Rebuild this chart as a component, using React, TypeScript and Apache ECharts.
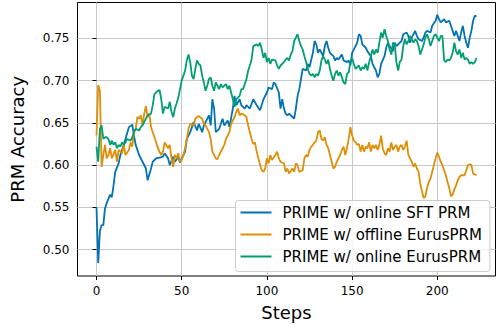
import React, { useEffect, useRef } from "react";
import * as echarts from "echarts";

const seriesNames = [
  "PRIME w/ online SFT PRM",
  "PRIME w/ offline EurusPRM",
  "PRIME w/ online EurusPRM",
];

const xTicks = [0, 50, 100, 150, 200];
const yTicks = [0.5, 0.55, 0.6, 0.65, 0.7, 0.75];

// [step, accuracy]
const onlineSft: [number, number][] = [
  [0, 0.55], [1, 0.484], [2, 0.522], [3, 0.529], [4, 0.529], [5, 0.549], [6, 0.555], [8, 0.565], [9, 0.562],
  [10, 0.576], [11, 0.592], [13, 0.602], [14, 0.612], [16, 0.624], [17, 0.631], [19, 0.645], [21, 0.648],
  [22, 0.635], [23, 0.624], [25, 0.612], [27, 0.604], [29, 0.596], [30, 0.582], [32, 0.596], [33, 0.604],
  [35, 0.608], [37, 0.609], [39, 0.61], [40, 0.614], [42, 0.608], [43, 0.6], [45, 0.61], [46, 0.604],
  [48, 0.61], [49, 0.603], [50, 0.608], [52, 0.616], [53, 0.631], [55, 0.639], [56, 0.645], [57, 0.651],
  [59, 0.641], [60, 0.649], [62, 0.639], [63, 0.647], [64, 0.651], [66, 0.659], [67, 0.647], [68, 0.678],
  [69, 0.667], [70, 0.639], [72, 0.643], [74, 0.655], [75, 0.647], [77, 0.653], [78, 0.645], [80, 0.667],
  [81, 0.682], [82, 0.671], [84, 0.678], [85, 0.671], [87, 0.667], [88, 0.671], [90, 0.667], [92, 0.678],
  [94, 0.671], [96, 0.665], [98, 0.678], [100, 0.686], [101, 0.692], [103, 0.69], [104, 0.698], [105, 0.696],
  [107, 0.686], [108, 0.667], [109, 0.678], [110, 0.667], [111, 0.661], [112, 0.659], [113, 0.661],
  [115, 0.657], [116, 0.655], [117, 0.667], [118, 0.682], [119, 0.69], [120, 0.702], [121, 0.714],
  [123, 0.712], [124, 0.72], [125, 0.716], [127, 0.733], [128, 0.747], [129, 0.743], [130, 0.733],
  [131, 0.737], [133, 0.729], [134, 0.741], [135, 0.747], [136, 0.739], [137, 0.733], [139, 0.729],
  [140, 0.724], [141, 0.727], [142, 0.725], [144, 0.731], [145, 0.724], [147, 0.722], [148, 0.724],
  [149, 0.718], [150, 0.733], [152, 0.741], [153, 0.745], [154, 0.755], [155, 0.753], [156, 0.743],
  [158, 0.739], [159, 0.735], [161, 0.729], [162, 0.72], [164, 0.712], [165, 0.704], [166, 0.708],
  [167, 0.72], [169, 0.729], [170, 0.739], [171, 0.745], [172, 0.741], [174, 0.735], [175, 0.745],
  [176, 0.741], [178, 0.745], [179, 0.747], [180, 0.755], [182, 0.757], [183, 0.753], [184, 0.745],
  [185, 0.751], [187, 0.759], [188, 0.753], [189, 0.749], [191, 0.747], [192, 0.751], [193, 0.757],
  [194, 0.759], [196, 0.757], [197, 0.765], [199, 0.771], [200, 0.778], [201, 0.773], [202, 0.769],
  [204, 0.773], [205, 0.769], [207, 0.771], [208, 0.765], [209, 0.759], [210, 0.753], [211, 0.759],
  [213, 0.747], [214, 0.757], [215, 0.765], [216, 0.753], [217, 0.745], [218, 0.739], [219, 0.751],
  [220, 0.759], [221, 0.771], [222, 0.777], [223, 0.776],
];

const offlineEurus: [number, number][] = [
  [0, 0.635], [1, 0.695], [2, 0.688], [3, 0.598], [4, 0.612], [5, 0.624], [6, 0.608], [7, 0.612], [8, 0.62],
  [9, 0.608], [11, 0.618], [12, 0.604], [13, 0.618], [15, 0.614], [16, 0.624], [17, 0.612], [19, 0.618],
  [20, 0.627], [21, 0.622], [22, 0.639], [23, 0.643], [24, 0.657], [25, 0.655], [26, 0.659], [27, 0.647],
  [28, 0.661], [29, 0.67], [30, 0.657], [31, 0.661], [32, 0.645], [33, 0.639], [35, 0.627], [36, 0.62],
  [38, 0.612], [39, 0.616], [40, 0.627], [42, 0.62], [43, 0.624], [44, 0.608], [45, 0.598], [46, 0.612],
  [47, 0.608], [48, 0.614], [49, 0.604], [50, 0.606], [51, 0.612], [52, 0.62], [53, 0.631], [54, 0.643],
  [55, 0.649], [57, 0.647], [58, 0.655], [59, 0.657], [60, 0.658], [62, 0.655], [63, 0.649], [64, 0.647],
  [66, 0.639], [67, 0.631], [68, 0.616], [70, 0.608], [71, 0.607], [72, 0.612], [74, 0.62], [75, 0.624],
  [76, 0.631], [78, 0.639], [79, 0.649], [81, 0.657], [82, 0.663], [83, 0.667], [84, 0.659], [85, 0.661],
  [87, 0.659], [88, 0.657], [89, 0.647], [91, 0.631], [92, 0.625], [93, 0.627], [94, 0.616], [95, 0.608],
  [96, 0.6], [97, 0.594], [98, 0.592], [99, 0.596], [100, 0.608], [101, 0.602], [102, 0.612], [103, 0.606],
  [105, 0.612], [106, 0.616], [107, 0.608], [108, 0.604], [110, 0.602], [111, 0.592], [112, 0.596],
  [113, 0.59], [115, 0.596], [116, 0.592], [117, 0.602], [118, 0.6], [119, 0.592], [121, 0.594],
  [122, 0.608], [123, 0.612], [124, 0.61], [125, 0.618], [126, 0.622], [127, 0.624], [128, 0.627],
  [129, 0.629], [130, 0.639], [131, 0.641], [132, 0.631], [133, 0.629], [134, 0.633], [135, 0.624],
  [136, 0.62], [137, 0.612], [138, 0.604], [139, 0.596], [140, 0.598], [141, 0.604], [142, 0.608],
  [143, 0.612], [144, 0.618], [145, 0.622], [146, 0.612], [147, 0.62], [148, 0.631], [149, 0.645],
  [150, 0.635], [151, 0.629], [152, 0.627], [153, 0.624], [154, 0.625], [155, 0.616], [156, 0.624],
  [157, 0.616], [158, 0.622], [159, 0.62], [160, 0.627], [161, 0.616], [162, 0.624], [163, 0.62],
  [164, 0.624], [165, 0.618], [166, 0.624], [167, 0.635], [168, 0.62], [169, 0.614], [170, 0.612],
  [171, 0.62], [172, 0.616], [173, 0.627], [174, 0.618], [175, 0.622], [176, 0.624], [177, 0.616],
  [178, 0.622], [179, 0.624], [180, 0.618], [181, 0.622], [182, 0.629], [183, 0.612], [184, 0.608],
  [185, 0.604], [186, 0.598], [187, 0.602], [188, 0.596], [189, 0.592], [190, 0.578], [191, 0.569],
  [192, 0.561], [193, 0.563], [194, 0.573], [195, 0.58], [196, 0.584], [197, 0.592], [198, 0.6],
  [199, 0.608], [200, 0.615], [201, 0.61], [202, 0.604], [203, 0.6], [204, 0.594], [205, 0.588],
  [206, 0.58], [207, 0.573], [208, 0.563], [209, 0.565], [210, 0.571], [211, 0.576], [212, 0.582],
  [213, 0.586], [214, 0.588], [215, 0.588], [216, 0.588], [217, 0.594], [218, 0.6], [219, 0.601],
  [220, 0.6], [221, 0.59], [223, 0.588],
];

const onlineEurus: [number, number][] = [
  [0, 0.622], [1, 0.604], [2, 0.643], [3, 0.647], [4, 0.631], [5, 0.633], [6, 0.633], [7, 0.631], [8, 0.624],
  [9, 0.629], [10, 0.624], [11, 0.627], [12, 0.62], [13, 0.624], [14, 0.622], [15, 0.627], [16, 0.624],
  [17, 0.627], [18, 0.631], [20, 0.629], [21, 0.633], [22, 0.639], [23, 0.643], [25, 0.641], [26, 0.645],
  [27, 0.647], [29, 0.655], [30, 0.659], [32, 0.661], [33, 0.671], [34, 0.684], [36, 0.688], [37, 0.689],
  [38, 0.678], [39, 0.661], [40, 0.669], [42, 0.667], [43, 0.675], [44, 0.663], [45, 0.657], [46, 0.667],
  [47, 0.673], [48, 0.68], [49, 0.69], [50, 0.7], [51, 0.706], [52, 0.712], [53, 0.724], [54, 0.731],
  [55, 0.722], [56, 0.706], [57, 0.702], [58, 0.714], [59, 0.724], [60, 0.72], [61, 0.718], [62, 0.706],
  [63, 0.698], [64, 0.688], [65, 0.694], [66, 0.702], [67, 0.704], [68, 0.694], [69, 0.688], [70, 0.698],
  [71, 0.694], [72, 0.69], [73, 0.696], [74, 0.692], [76, 0.696], [77, 0.69], [78, 0.694], [79, 0.686],
  [80, 0.678], [81, 0.669], [82, 0.678], [84, 0.682], [85, 0.69], [86, 0.69], [88, 0.702], [89, 0.712],
  [90, 0.718], [91, 0.725], [92, 0.741], [94, 0.743], [95, 0.741], [96, 0.745], [97, 0.737], [98, 0.727],
  [99, 0.733], [100, 0.722], [101, 0.727], [102, 0.72], [103, 0.725], [105, 0.724], [106, 0.718],
  [107, 0.714], [108, 0.718], [110, 0.722], [111, 0.725], [112, 0.727], [113, 0.724], [114, 0.731],
  [115, 0.735], [116, 0.747], [117, 0.751], [118, 0.755], [119, 0.747], [120, 0.741], [121, 0.737],
  [122, 0.729], [123, 0.722], [124, 0.714], [125, 0.708], [126, 0.706], [127, 0.708], [128, 0.704],
  [129, 0.708], [130, 0.706], [131, 0.712], [132, 0.724], [133, 0.729], [134, 0.725], [135, 0.72],
  [136, 0.725], [137, 0.714], [138, 0.706], [139, 0.7], [140, 0.708], [141, 0.712], [142, 0.706],
  [143, 0.71], [144, 0.704], [145, 0.698], [146, 0.696], [147, 0.708], [148, 0.71], [149, 0.722],
  [150, 0.727], [151, 0.72], [152, 0.714], [153, 0.716], [154, 0.718], [155, 0.712], [156, 0.716],
  [157, 0.714], [158, 0.72], [159, 0.712], [160, 0.722], [161, 0.729], [162, 0.737], [163, 0.731],
  [164, 0.737], [165, 0.733], [166, 0.745], [167, 0.757], [168, 0.751], [169, 0.761], [170, 0.753],
  [171, 0.747], [172, 0.737], [173, 0.731], [174, 0.745], [175, 0.743], [176, 0.722], [177, 0.712],
  [178, 0.722], [179, 0.725], [180, 0.741], [181, 0.749], [182, 0.743], [183, 0.747], [184, 0.753],
  [185, 0.749], [186, 0.745], [187, 0.749], [188, 0.747], [189, 0.741], [190, 0.731], [191, 0.737],
  [192, 0.743], [193, 0.751], [194, 0.755], [195, 0.749], [196, 0.741], [197, 0.747], [198, 0.753],
  [199, 0.755], [200, 0.751], [201, 0.747], [202, 0.753], [203, 0.753], [204, 0.724], [205, 0.722],
  [206, 0.725], [207, 0.724], [208, 0.727], [209, 0.733], [210, 0.745], [211, 0.735], [212, 0.731],
  [213, 0.737], [214, 0.727], [215, 0.733], [216, 0.725], [217, 0.727], [218, 0.725], [219, 0.72],
  [220, 0.722], [221, 0.72], [222, 0.722], [223, 0.727],
];

const colors = ["#0173B2", "#DE8F05", "#029E73"];
const FONT = "DejaVu Sans";

export default function App() {
  const ref = useRef<HTMLDivElement>(null);

  useEffect(() => {
    if (!ref.current) return;
    const chart = echarts.init(ref.current, undefined, { renderer: "svg" });
    const allData = [onlineSft, offlineEurus, onlineEurus];
    chart.setOption({
      animation: false,
      backgroundColor: "#ffffff",
      textStyle: { fontFamily: FONT, color: "#000" },
      grid: {
        left: 77.5,
        right: 1.5,
        top: 2.5,
        bottom: 47.5,
        show: true,
        borderColor: "#000",
        borderWidth: 1,
        backgroundColor: "transparent",
      },
      xAxis: {
        type: "value",
        min: -11.15,
        max: 234.15,
        name: "Steps",
        nameLocation: "middle",
        nameGap: 27,
        nameTextStyle: { fontSize: 18, color: "#000", fontFamily: FONT },
        axisLine: { show: false },
        axisTick: {
          show: true,
          length: 4,
          lineStyle: { color: "#000", width: 1 },
          customValues: xTicks,
        },
        axisLabel: {
          fontSize: 12,
          color: "#000",
          fontFamily: FONT,
          margin: 9,
          customValues: xTicks,
          formatter: (v: number) => String(v),
        },
        splitLine: { show: true, lineStyle: { color: "#c8c8c8", width: 1 } },
      },
      yAxis: {
        type: "value",
        min: 0.4687,
        max: 0.7926,
        name: "PRM Accuracy",
        nameLocation: "middle",
        nameGap: 51,
        nameTextStyle: { fontSize: 18, color: "#000", fontFamily: FONT },
        axisLine: { show: false },
        axisTick: {
          show: true,
          length: 4,
          lineStyle: { color: "#000", width: 1 },
          customValues: yTicks,
        },
        axisLabel: {
          fontSize: 12,
          color: "#000",
          fontFamily: FONT,
          margin: 8,
          customValues: yTicks,
          formatter: (v: number) => v.toFixed(2),
        },
        splitLine: { show: true, lineStyle: { color: "#c8c8c8", width: 1 } },
      },
      legend: {
        orient: "vertical",
        left: 235.5,
        top: 200.5,
        padding: [3, 8, 6, 5],
        itemGap: 4,
        itemWidth: 31,
        itemHeight: 2,
        icon: "rect",
        backgroundColor: "rgba(255,255,255,0.85)",
        borderColor: "#cccccc",
        borderWidth: 1,
        borderRadius: 3,
        textStyle: {
          fontSize: 15,
          lineHeight: 18,
          color: "#000",
          fontFamily: FONT,
          padding: [0, 0, 0, 6],
        },
        data: seriesNames,
      },
      series: seriesNames.map((name, i) => ({
        name,
        type: "line",
        data: allData[i],
        showSymbol: false,
        symbol: "none",
        color: colors[i],
        itemStyle: { color: colors[i] },
        lineStyle: { color: colors[i], width: 1.8 },
        z: 2 + i,
      })),
    });
    return () => chart.dispose();
  }, []);

  return (
    <div
      ref={ref}
      style={{ position: "fixed", left: 0, top: 0, width: 497, height: 326 }}
    />
  );
}
